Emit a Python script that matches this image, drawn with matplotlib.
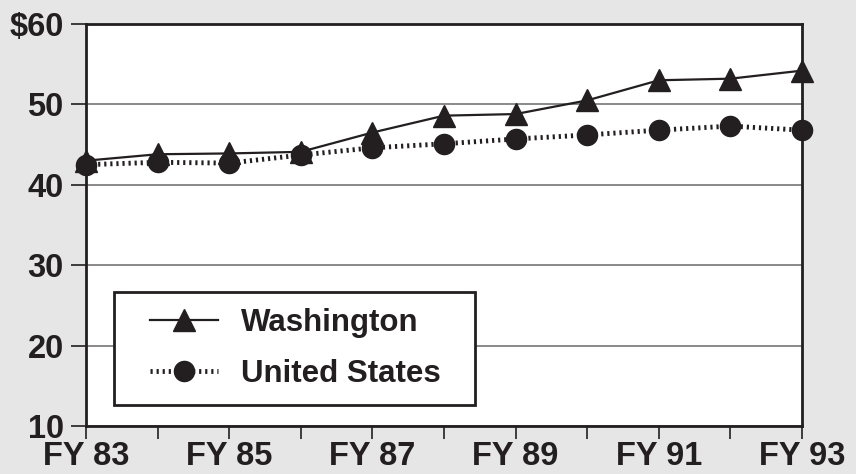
import matplotlib.pyplot as plt
from matplotlib.legend_handler import HandlerLine2D
import numpy as np

# fiscal years and dollar values
years = [83, 84, 85, 86, 87, 88, 89, 90, 91, 92, 93]
washington = [43.0, 43.8, 43.9, 44.1, 46.5, 48.6, 48.8, 50.5, 53.0, 53.2, 54.2]
united_states = [42.5, 42.8, 42.7, 43.7, 44.6, 45.1, 45.7, 46.2, 46.8, 47.3, 46.8]
tick_labels = ['FY 83', 'FY 85', 'FY 87', 'FY 89', 'FY 91', 'FY 93']

plt.rcParams['font.family'] = ['Liberation Sans', 'DejaVu Sans']
plt.rcParams['font.weight'] = 'bold'

ink = '#231f20'
bg = '#e6e6e6'
fig = plt.figure(figsize=(8.56, 4.74), dpi=100, facecolor=bg)
ax = fig.add_axes([86 / 856, 1 - 426 / 474, (802 - 86) / 856, (426 - 24) / 474])
ax.set_facecolor('white')

ax.plot(years, washington, color=ink, lw=1.6, marker='^', ms=16,
        label='Washington', clip_on=False, zorder=3)
ax.plot(years, united_states, color=ink, lw=3.5, ls=(0, (0.45, 0.8)),
        marker='o', ms=14.5, label='United States', clip_on=False, zorder=3)

ax.set_xlim(83, 93)
ax.set_ylim(10, 60)
ax.set_xticks(years)
ax.set_xticklabels([tick_labels[(y - 83) // 2] if (y - 83) % 2 == 0 else ''
                    for y in years])
ax.set_yticks([10, 20, 30, 40, 50, 60])
ax.set_yticklabels(['10', '20', '30', '40', '50', '$60'])
ax.yaxis.grid(True, color='#808080', lw=1.3)
ax.set_axisbelow(True)
ax.tick_params(axis='both', direction='out', width=1.2, color=ink,
               labelsize=23.5, labelcolor=ink)
ax.tick_params(axis='x', length=9.5, pad=1.5)
ax.tick_params(axis='y', length=11, pad=5)
for s in ax.spines.values():
    s.set_color(ink)
    s.set_linewidth(2)

fs = 22.5
leg = ax.legend(loc='upper left',
                bbox_to_anchor=(114 / 856, 1 - 402 / 474, 361 / 856, 110 / 474),
                bbox_transform=fig.transFigure, mode='expand', fontsize=fs,
                handler_map={ax.lines[0]: HandlerLine2D(numpoints=1, xpad=0.65),
                             ax.lines[1]: HandlerLine2D(numpoints=1, xpad=0.65)},
                handlelength=2.83, handletextpad=0.74, borderpad=0.5,
                labelspacing=0.68, borderaxespad=0, fancybox=False,
                framealpha=1, edgecolor=ink)
leg.get_frame().set_linewidth(2)
for t in leg.get_texts():
    t.set_color(ink)
    t.set_fontweight('bold')

plt.savefig('out.png', dpi=100, facecolor=bg)
